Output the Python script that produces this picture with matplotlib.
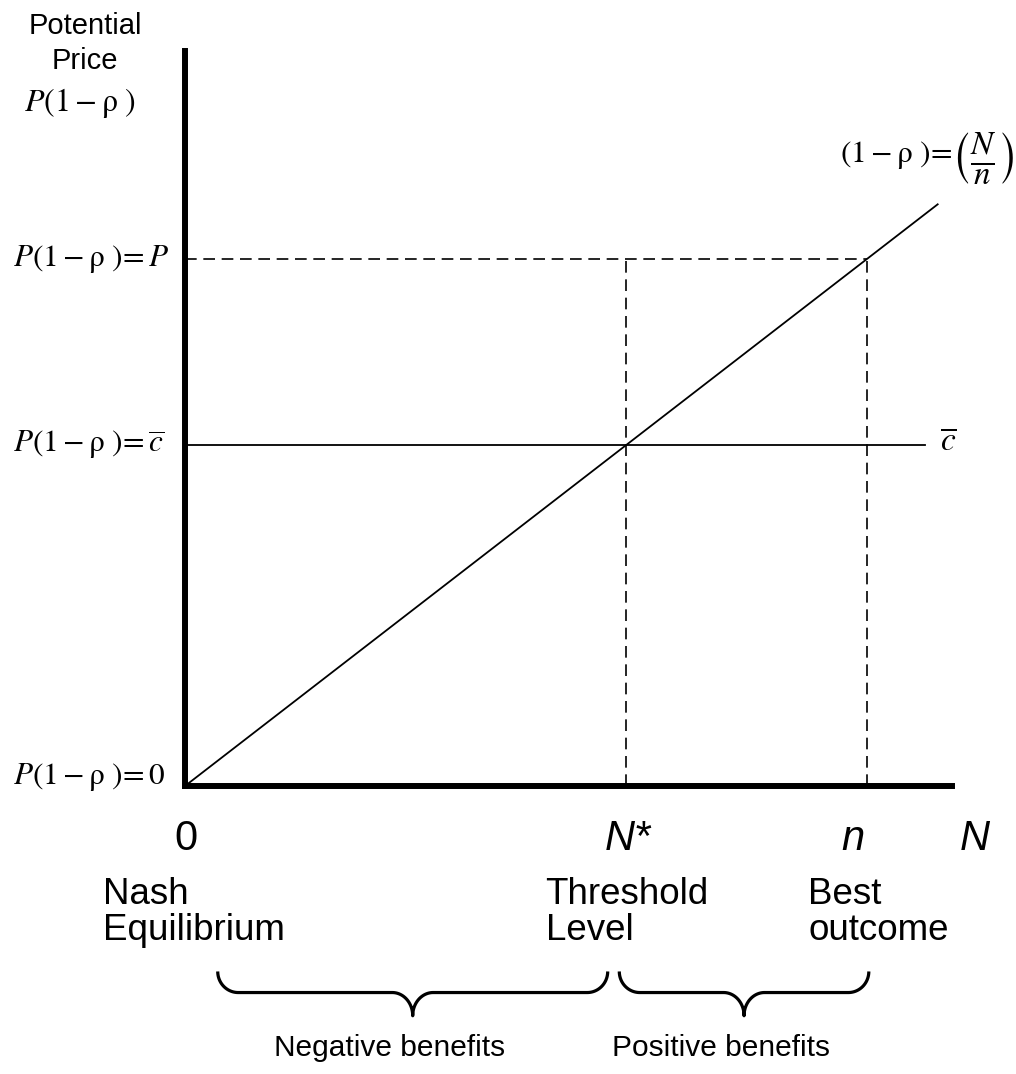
import numpy as np
import matplotlib
matplotlib.use('Agg')
import matplotlib.pyplot as plt
import matplotlib.transforms as mtransforms

plt.rcParams['mathtext.fontset'] = 'stix'
plt.rcParams['font.family'] = 'Liberation Sans'

### Data (N on the x axis, P(1 - rho) on the y axis)

n_best = 1.0        # best outcome n
N_star = 0.647      # threshold level N*
P_full = 1.0        # P(1 - rho) = P
c_bar = 0.647       # cost level c-bar
N_line = [0.0, 1.104]               # extent of the (1 - rho) = N/n line
c_line = [0.0, 1.085]               # extent of the c-bar line
x_ticks = [0.0, N_star, n_best]
x_tick_labels = ['0', 'N*', 'n']
y_levels = [P_full, c_bar, 0.0]
y_level_labels = [r'$P(1-\mathrm{\rho}\ )\!=P$',
                  r'$P(1-\mathrm{\rho}\ )\!=\overline{c}$',
                  r'$P(1-\mathrm{\rho}\ )\!=0$']
region_labels = ['Nash\nEquilibrium', 'Threshold\nLevel', 'Best\noutcome']
region_x = [0.0, N_star, n_best]
brace_spans = [(0.048, 0.62), (0.637, 1.003)]
brace_labels = ['Negative benefits', 'Positive benefits']


### Helpers

def brace(ax, x0, x1, y_top, y_flat, y_tip, r):
   """
   Draw a curly brace opening upwards between x0 and x1.
   """
   xc = (x0 + x1) / 2.
   t = np.linspace(0, np.pi / 2, 30)
   # left end to flat part
   xa = x0 + r * (1 - np.cos(t))
   ya = y_top - (y_top - y_flat) * np.sin(t)
   # flat part to tip
   xb = xc - r + r * np.sin(t)
   yb = y_flat - (y_flat - y_tip) * (1 - np.cos(t))
   xs = np.concatenate([xa, xb, (2 * xc - xb)[::-1], (2 * xc - xa)[::-1]])
   ys = np.concatenate([ya, yb, yb[::-1], ya[::-1]])
   ax.plot(xs, ys, color='black', lw=2.3, clip_on=False, solid_capstyle='butt')


### Plot

fig = plt.figure(figsize=(10.16, 10.74), dpi=100)
ax = fig.add_axes([185 / 1016, 288 / 1074, 767 / 1016, 735 / 1074])
ax.set_xlim(0, 1.125)
ax.set_ylim(0, 1.395)
for side in ['top', 'right']:
   ax.spines[side].set_visible(False)
for side in ['left', 'bottom']:
   ax.spines[side].set_linewidth(4.3)
ax.set_xticks([])
ax.set_yticks([])

# main lines
ax.plot(N_line, [x * P_full / n_best for x in N_line], color='black', lw=1.3, clip_on=False)
ax.plot(c_line, [c_bar, c_bar], color='black', lw=1.3, clip_on=False)
dash = dict(color='black', lw=1.2, dashes=(7, 4), clip_on=False)
ax.plot([0, n_best], [P_full, P_full], **dash)
ax.plot([N_star, N_star], [0, P_full], **dash)
ax.plot([n_best, n_best], [0, P_full], **dash)

# y axis labels
left = mtransforms.blended_transform_factory(fig.transFigure, ax.transData)
offsets = [0, 0, 0.018]
for y, lab, off in zip(y_levels, y_level_labels, offsets):
   ax.text(13 / 1016, y + off, lab, transform=left, ha='left', va='center', fontsize=22.5)

fig.text(85 / 1016, 1 - 26 / 1074, 'Potential', ha='center', va='center', fontsize=21)
fig.text(85 / 1016, 1 - 61 / 1074, 'Price', ha='center', va='center', fontsize=21)
fig.text(80 / 1016, 1 - 103 / 1074, r'$P(1-\mathrm{\rho}\ )$', ha='center', va='center', fontsize=23)

ax.text(1.126, 1.197, r'$(1-\mathrm{\rho}\ )\!=$', ha='right',
        va='center', fontsize=22.5, clip_on=False)
ax.text(1.124, 1.19, r'$\left(\frac{N}{n}\right)$', ha='left',
        va='center', fontsize=34, clip_on=False)
ax.text(1.12, c_bar + 0.007, r'$\overline{c}$', ha='center', va='center', fontsize=24, clip_on=False)

# x axis labels
for x, lab in zip(x_ticks, x_tick_labels):
   style = 'normal' if lab == '0' else 'italic'
   dx = -10 if lab == 'n' else 1
   ax.annotate(lab, xy=(x, 0), xytext=(dx, -38), textcoords='offset points',
               ha='center', va='center', fontsize=30, style=style, annotation_clip=False)
ax.annotate('N', xy=(1.158, 0), xytext=(0, -38), textcoords='offset points',
            ha='center', va='center', fontsize=30, style='italic', annotation_clip=False)

region_dx = [-59, -58, -42]
for x, lab, dx in zip(region_x, region_labels, region_dx):
   ax.annotate(lab, xy=(x, 0), xytext=(dx, -91), textcoords='offset points',
               ha='left', va='center', fontsize=26.5, linespacing=1.05, annotation_clip=False)

# braces and their labels
for (x0, x1), lab in zip(brace_spans, brace_labels):
   brace(ax, x0, x1, -0.352, -0.392, -0.436, 0.03)
   ax.text((x0 + x1) / 2 - 0.034, -0.497, lab, ha='center', va='center', fontsize=21.5, clip_on=False)

fig.savefig('out.png', dpi=100)
